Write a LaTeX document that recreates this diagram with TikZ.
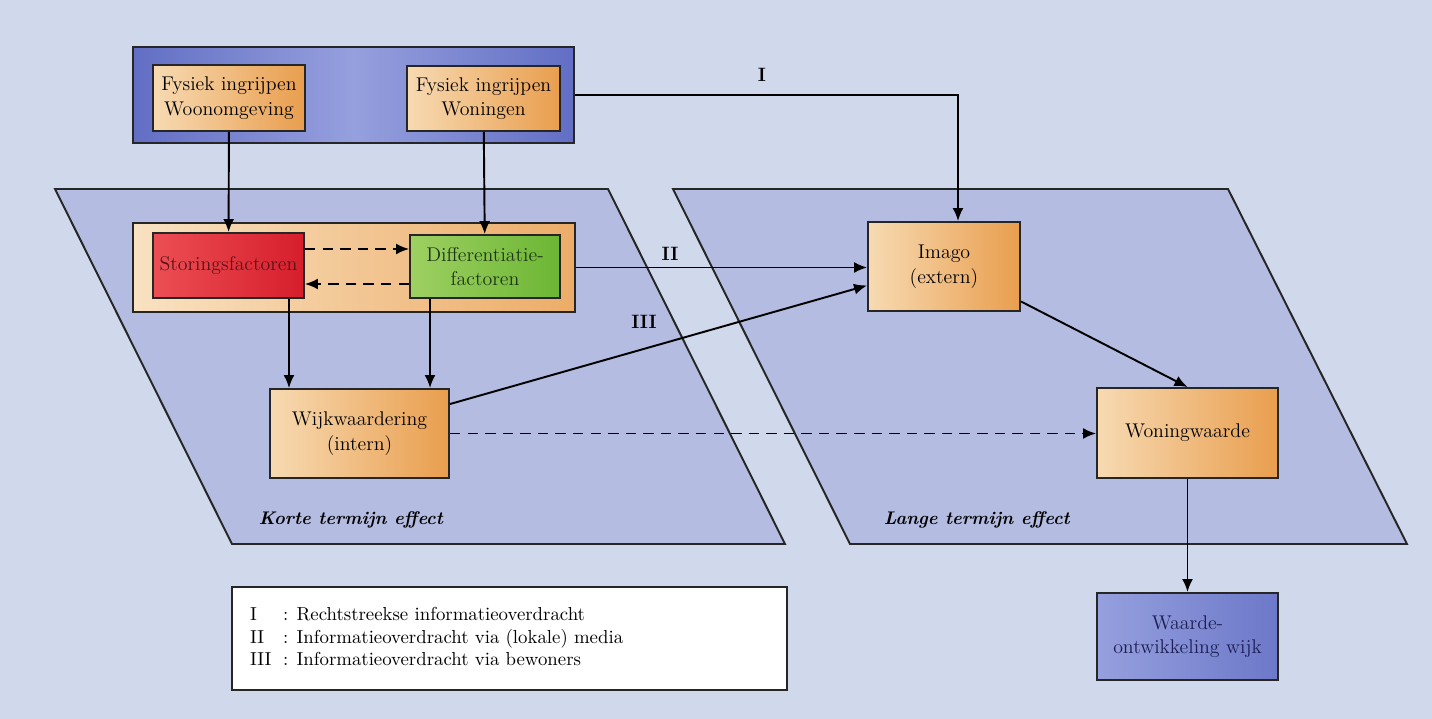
\documentclass[tikz,border=0pt]{standalone}
\usepackage{tikz}
\usetikzlibrary{positioning}
\usetikzlibrary{calc}
\usetikzlibrary{arrows.meta}

\definecolor{bgc}{RGB}{208,216,235}
\definecolor{parac}{RGB}{180,188,225}
\definecolor{blueD}{RGB}{98,110,196}
\definecolor{blueL}{RGB}{150,160,222}
\definecolor{oraL}{RGB}{247,218,178}
\definecolor{oraD}{RGB}{233,158,78}
\definecolor{redL}{RGB}{236,78,84}
\definecolor{redD}{RGB}{214,30,44}
\definecolor{grnL}{RGB}{158,208,98}
\definecolor{grnD}{RGB}{108,182,52}

\begin{document}
\begin{tikzpicture}[x=0.02cm, y=-0.02cm, >={Latex[length=2.6mm,width=2.2mm]}, line width=1.1pt,
	box/.style={draw=black!85, minimum width=#1, inner sep=2pt, align=center,
		font=\fontsize{11.3}{14}\selectfont},
	obox/.style={box=#1, left color=oraL, right color=oraD},
	para/.style={draw=black!85, fill=parac},
	dsh/.style={dash pattern=on 6pt off 4pt},
	lbl/.style={font=\fontsize{11}{13}\selectfont\bfseries}]
\fill[bgc] (0,0) rectangle (1432,719);

% korte en lange termijn
\draw[para] (55,189) -- (608,189) -- (785,544) -- (232,544) -- cycle;
\draw[para] (673,189) -- (1228,189) -- (1407,544) -- (850,544) -- cycle;
\path (252,520) node[anchor=west, font=\fontsize{10.4}{12}\selectfont\bfseries\itshape] (kt) {Korte termijn effect}
	(877,520) node[anchor=west, font=\fontsize{10.4}{12}\selectfont\bfseries\itshape] (lt) {Lange termijn effect};

% ingrijpen
\node[box=8.82cm, minimum height=1.92cm, left color=blueD, right color=blueD, middle color=blueL] (top) at (353.5,95) {};
\node[obox=3.04cm, minimum height=1.32cm] (fwo) at (229,98) {Fysiek ingrijpen\\Woonomgeving};
\node[obox=3.06cm, minimum height=1.3cm] (fwn) at (483.5,98.5) {Fysiek ingrijpen\\Woningen};

\node[box=8.84cm, minimum height=1.78cm, left color=oraL!80!white, right color=oraD!85!white] (mid) at (354,267.5) {};
\node[box=3.02cm, minimum height=1.3cm, left color=redL, right color=redD, text={rgb,255:red,90;green,18;blue,22}] (sf) at (228.5,265.5) {Storingsfactoren};
\node[box=3.0cm, minimum height=1.26cm, left color=grnL, right color=grnD, text={rgb,255:red,30;green,52;blue,22}] (df) at (485,266.5) {Differentiatie-\\factoren};

\node[obox=3.58cm, minimum height=1.78cm] (wk) at (359.5,433.5) {Wijkwaardering\\(intern)};
\node[obox=3.04cm, minimum height=1.78cm] (im) at (944,266.5) {Imago\\(extern)};
\node[obox=3.62cm, minimum height=1.8cm] (ww) at (1187.5,433) {Woningwaarde};
\node[box=3.62cm, minimum height=1.74cm, left color=blueL, right color=blueD!80!blueL, text={rgb,255:red,28;green,30;blue,80}] (wo) at (1187.5,636.5) {Waarde-\\ontwikkeling wijk};

% pijlen
\draw[->] (fwo) -- (sf);
\draw[->] (fwn) -- (df);
\draw[->, dsh] ([yshift=0.33cm]sf.east) -- ([yshift=0.33cm]sf.east -| df.west);
\draw[->, dsh] ([yshift=-0.35cm]df.west) -- ([yshift=-0.35cm]df.west -| sf.east);
\draw[->] ([xshift=1.21cm]sf.south) -- ([xshift=1.21cm]sf.south |- wk.north);
\draw[->] ([xshift=-1.1cm]df.south) -- ([xshift=-1.1cm]df.south |- wk.north);
\draw[->] (top.east) -| ([xshift=0.28cm]im.north);
\draw[->] (mid.east) -- (mid.east -| im.west);
\draw[->] ([yshift=-0.32cm]wk.north east) -- ([yshift=0.53cm]im.south west);
\draw[->] ([yshift=0.21cm]im.south east) -- (ww.north);
\draw[->, dsh] (wk.east) -- (wk.east -| ww.west);
\draw[->] (ww) -- (wo);
\path (762,75) node[lbl] (l1) {I} (670,254) node[lbl] (l2) {II} (644,322) node[lbl] (l3) {III};

% legenda
\node[draw=black!85, fill=white, minimum width=11.1cm, minimum height=2.06cm] (leg) at (509.5,638.5) {};
\node[anchor=west, inner sep=0pt, font=\fontsize{10.7}{12}\selectfont] (legt) at ([xshift=0.36cm]leg.west)
	{\renewcommand{\arraystretch}{1.08}\begin{tabular}{@{}p{0.66cm}@{}l@{}}
	I & : Rechtstreekse informatieoverdracht\\
	II & : Informatieoverdracht via (lokale) media\\
	III & : Informatieoverdracht via bewoners
	\end{tabular}};
\end{tikzpicture}
\end{document}
